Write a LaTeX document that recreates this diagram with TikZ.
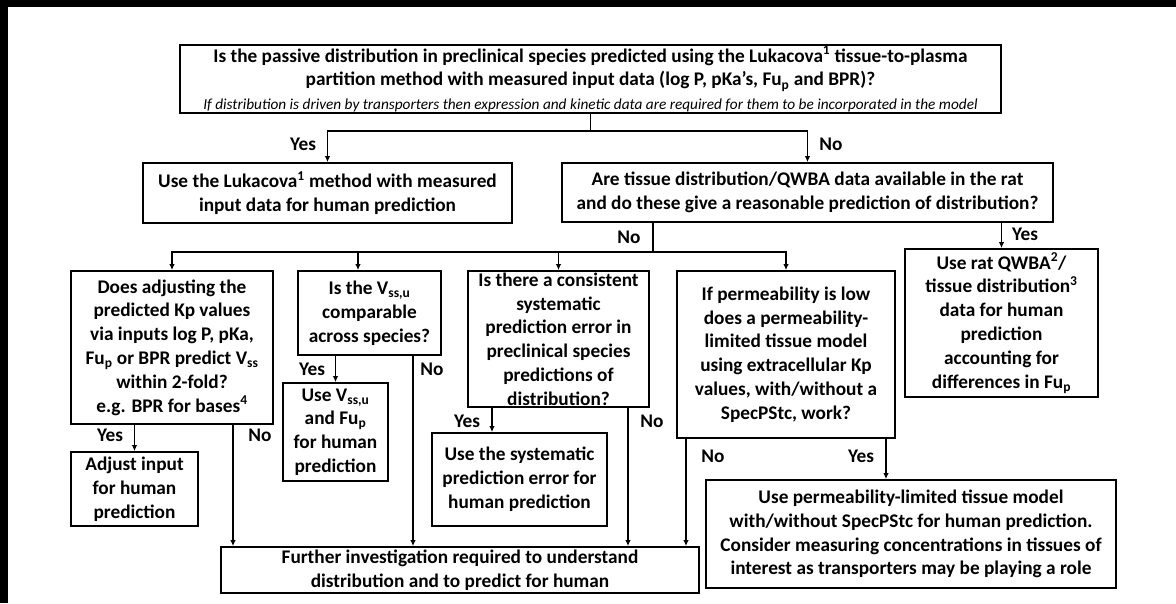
\documentclass[tikz,border=0pt]{standalone}
\usepackage{fontspec}
\setmainfont{Carlito}
\usepackage{tikz}
\usetikzlibrary{arrows.meta,positioning,calc}

\tikzset{
  qbox/.style={draw,line width=1.8pt,align=center,inner sep=0pt,
    font=\bfseries\fontsize{19.3}{23.8}\selectfont},
  lbl/.style={font=\bfseries\fontsize{19.3}{21}\selectfont,inner sep=0pt},
  link/.style={line width=1.8pt},
  flow/.style={link,-{Latex[length=6pt,width=5.5pt]}}
}
\newcommand{\Fup}{Fu\textsubscript{p}}
\newcommand{\Vssu}{V\textsubscript{ss,u}}

\begin{document}
\begin{tikzpicture}[x=1pt,y=-1pt]
\useasboundingbox (0,0) rectangle (1176,603);
\fill[black] (0,0) rectangle (1176,7);
\fill[black] (0,0) rectangle (8,603);

% first question and its two answers
\node[qbox,minimum width=821pt,minimum height=68pt] (q1) at (590.5,79)
  {Is the passive distribution in preclinical species predicted using the Lukacova\textsuperscript{1} tissue-to-plasma\\
   partition method with measured input data (log P, pKa's, \Fup{} and BPR)?\\
   {\mdseries\itshape\fontsize{15.3}{16}\selectfont If distribution is driven by transporters then expression and kinetic data are required for them to be incorporated in the model}};
\node[qbox,minimum width=369pt,minimum height=60pt] (yes1) at (327.5,193)
  {Use the Lukacova\textsuperscript{1} method with measured\\ input data for human prediction};
\node[qbox,minimum width=491pt,minimum height=59pt] (q2) at (807.5,192.5)
  {Are tissue distribution/QWBA data available in the rat\\ and do these give a reasonable prediction of distribution?};
\node[qbox,minimum width=193pt,minimum height=148pt] (qwba) at (1001.5,323)
  {Use rat QWBA\textsuperscript{2}/\\ tissue distribution\textsuperscript{3}\\ data for human\\ prediction\\ accounting for\\ differences in \Fup};

% second level questions
\node[qbox,minimum width=202pt,minimum height=153pt] (q3) at (172,347.5)
  {Does adjusting the\\ predicted Kp values\\ via inputs log P, pKa,\\ \Fup{} or BPR predict V\textsubscript{ss}\\ within 2-fold?\\ e.g. BPR for bases\textsuperscript{4}};
\node[qbox,minimum width=143pt,minimum height=84pt] (q4) at (369.5,313)
  {Is the \Vssu\\ comparable\\ across species?};
\node[qbox,minimum width=181pt,minimum height=136pt] (q5) at (558.5,339)
  {Is there a consistent\\ systematic\\ prediction error in\\ preclinical species\\ predictions of\\ distribution?};
\node[qbox,minimum width=218pt,minimum height=167pt] (q6) at (786,354.5)
  {If permeability is low\\ does a permeability-\\ limited tissue model\\ using extracellular Kp\\ values, with/without a\\ SpecPStc, work?};

% outcomes
\node[qbox,minimum width=127pt,minimum height=74pt] (adjust) at (134.5,489)
  {Adjust input\\ for human\\ prediction};
\node[qbox,minimum width=105pt,minimum height=98pt] (usevss) at (335.5,432)
  {Use \Vssu\\ and \Fup\\ for human\\ prediction};
\node[qbox,minimum width=175pt,minimum height=93pt] (syst) at (519.5,479.5)
  {Use the systematic\\ prediction error for\\ human prediction};
\node[qbox,minimum width=410pt,minimum height=108pt] (perm) at (911,534)
  {Use permeability-limited tissue model\\ with/without SpecPStc for human prediction.\\ Consider measuring concentrations in tissues of\\ interest as transporters may be playing a role};
\node[qbox,minimum width=478pt,minimum height=46pt] (further) at (460,570)
  {Further investigation required to understand\\ distribution and to predict for human};

% connectors
\coordinate (b1) at (590.5,131);
\draw[link] (q1.south) -- (b1);
\draw[flow] (b1) -| (yes1.north);
\draw[flow] (b1) -| (q2.north);
\draw[flow] (q2.south -| qwba.north) -- (qwba.north);
\coordinate (b2) at (653,252);
\draw[link] (q2.south -| b2) -- (b2);
\draw[flow] (b2) -| (q3.north);
\draw[flow] (b2) -| ([xshift=-11.5pt]q4.north);
\draw[flow] (b2) -| (q5.north);
\draw[flow] (b2) -| (q6.north);
\draw[flow] (q3.south -| adjust.north) -- (adjust.north);
\draw[flow] ([xshift=61pt]q3.south) -- ([xshift=61pt]q3.south |- further.north);
\draw[flow] (q4.south -| usevss.north) -- (usevss.north);
\draw[flow] ([xshift=43.5pt]q4.south) -- ([xshift=43.5pt]q4.south |- further.north);
\draw[flow] ([xshift=-66.5pt]q5.south) -- ([xshift=-66.5pt]q5.south |- syst.north);
\draw[flow] ([xshift=69.5pt]q5.south) -- ([xshift=69.5pt]q5.south |- further.north);
\draw[flow] ([xshift=-100pt]q6.south) -- ([xshift=-100pt]q6.south |- further.north);
\draw[flow] ([xshift=100pt]q6.south) -- ([xshift=100pt]q6.south |- perm.north);

% answers
\node[lbl] (y1) at (303,144) {Yes};
\node[lbl] (n1) at (831,144) {No};
\node[lbl] (y2) at (1025,234) {Yes};
\node[lbl] (n2) at (629,237) {No};
\node[lbl] (y3) at (110,435) {Yes};
\node[lbl] (n3) at (260,435) {No};
\node[lbl] (y4) at (312,369) {Yes};
\node[lbl] (n4) at (432,369) {No};
\node[lbl] (y5) at (467,421) {Yes};
\node[lbl] (n5) at (652,421) {No};
\node[lbl] (n6) at (713,456) {No};
\node[lbl] (y6) at (861,456) {Yes};
\end{tikzpicture}
\end{document}
